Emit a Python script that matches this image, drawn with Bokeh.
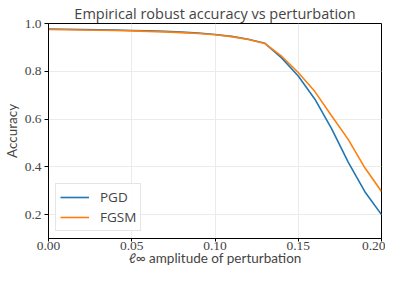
from bokeh.plotting import figure
from bokeh.models import FixedTicker, NumeralTickFormatter, Range1d, Legend, LegendItem
from bokeh.embed import file_html
from bokeh.resources import INLINE

eps = [0.00, 0.01, 0.02, 0.03, 0.04, 0.05, 0.06, 0.07, 0.08, 0.09, 0.10,
       0.11, 0.12, 0.13, 0.14, 0.15, 0.16, 0.17, 0.18, 0.19, 0.20]
pgd = [0.977, 0.976, 0.975, 0.974, 0.973, 0.971, 0.969, 0.967, 0.964, 0.960, 0.954,
       0.946, 0.934, 0.917, 0.856, 0.780, 0.683, 0.560, 0.420, 0.296, 0.200]
fgsm = [0.975, 0.974, 0.973, 0.972, 0.971, 0.969, 0.967, 0.965, 0.962, 0.958, 0.953,
        0.945, 0.933, 0.916, 0.863, 0.795, 0.715, 0.614, 0.515, 0.396, 0.297]
x_ticks = [0.00, 0.05, 0.10, 0.15, 0.20]
y_ticks = [0.2, 0.4, 0.6, 0.8, 1.0]

p = figure(width=385, height=268, output_backend="svg", toolbar_location=None,
           x_range=Range1d(0.0, 0.20), y_range=Range1d(0.1, 1.0),
           title="Empirical robust accuracy vs perturbation",
           min_border_left=10, min_border_right=4, min_border_top=4, min_border_bottom=0)

p.title.text_font = "Open Sans"
p.title.text_font_size = "14.5px"
p.title.text_font_style = "normal"
p.title.align = "center"
p.title.offset = 0
p.title.standoff = 2

r1 = p.line(eps, pgd, line_color="#1f77b4", line_width=1.6)
r2 = p.line(eps, fgsm, line_color="#ff7f0e", line_width=1.6)

legend = Legend(items=[LegendItem(label="PGD", renderers=[r1]),
                       LegendItem(label="FGSM", renderers=[r2])],
                location="bottom_left")
legend.label_text_font = "Open Sans"
legend.label_text_font_size = "13.5px"
legend.border_line_color = "#cccccc"
legend.border_line_width = 1
legend.background_fill_alpha = 0.9
legend.glyph_width = 29
legend.glyph_height = 16
legend.label_height = 16
legend.label_standoff = 11
legend.spacing = 2
legend.padding = 4
legend.margin = 7
p.add_layout(legend)

for ax in (p.xaxis, p.yaxis):
    ax.major_label_text_font = "Liberation Serif"
    ax.major_label_text_font_size = "13.5px"
    ax.axis_label_text_font = "Lato"
    ax.axis_label_text_font_size = "13.5px"
    ax.axis_label_text_font_style = "normal"
    ax.minor_tick_line_color = None
    ax.major_tick_out = 4
    ax.major_tick_in = 0
    ax.axis_line_color = "black"
    ax.major_tick_line_color = "black"

p.xaxis.ticker = FixedTicker(ticks=x_ticks)
p.yaxis.ticker = FixedTicker(ticks=y_ticks)
p.xaxis.formatter = NumeralTickFormatter(format="0.00")
p.yaxis.formatter = NumeralTickFormatter(format="0.0")
p.xaxis.axis_label = "ℓ∞ amplitude of perturbation"
p.yaxis.axis_label = "Accuracy"
p.xaxis.major_tick_out = 3
p.xaxis.major_label_standoff = 0
p.yaxis.major_label_standoff = 3
p.xaxis.axis_label_standoff = -3
p.yaxis.axis_label_standoff = 2

p.outline_line_color = "black"
p.outline_line_width = 1
p.grid.grid_line_color = "#ebebeb"
p.grid.grid_line_width = 1

open("out.html", "w").write(file_html(p, INLINE))
